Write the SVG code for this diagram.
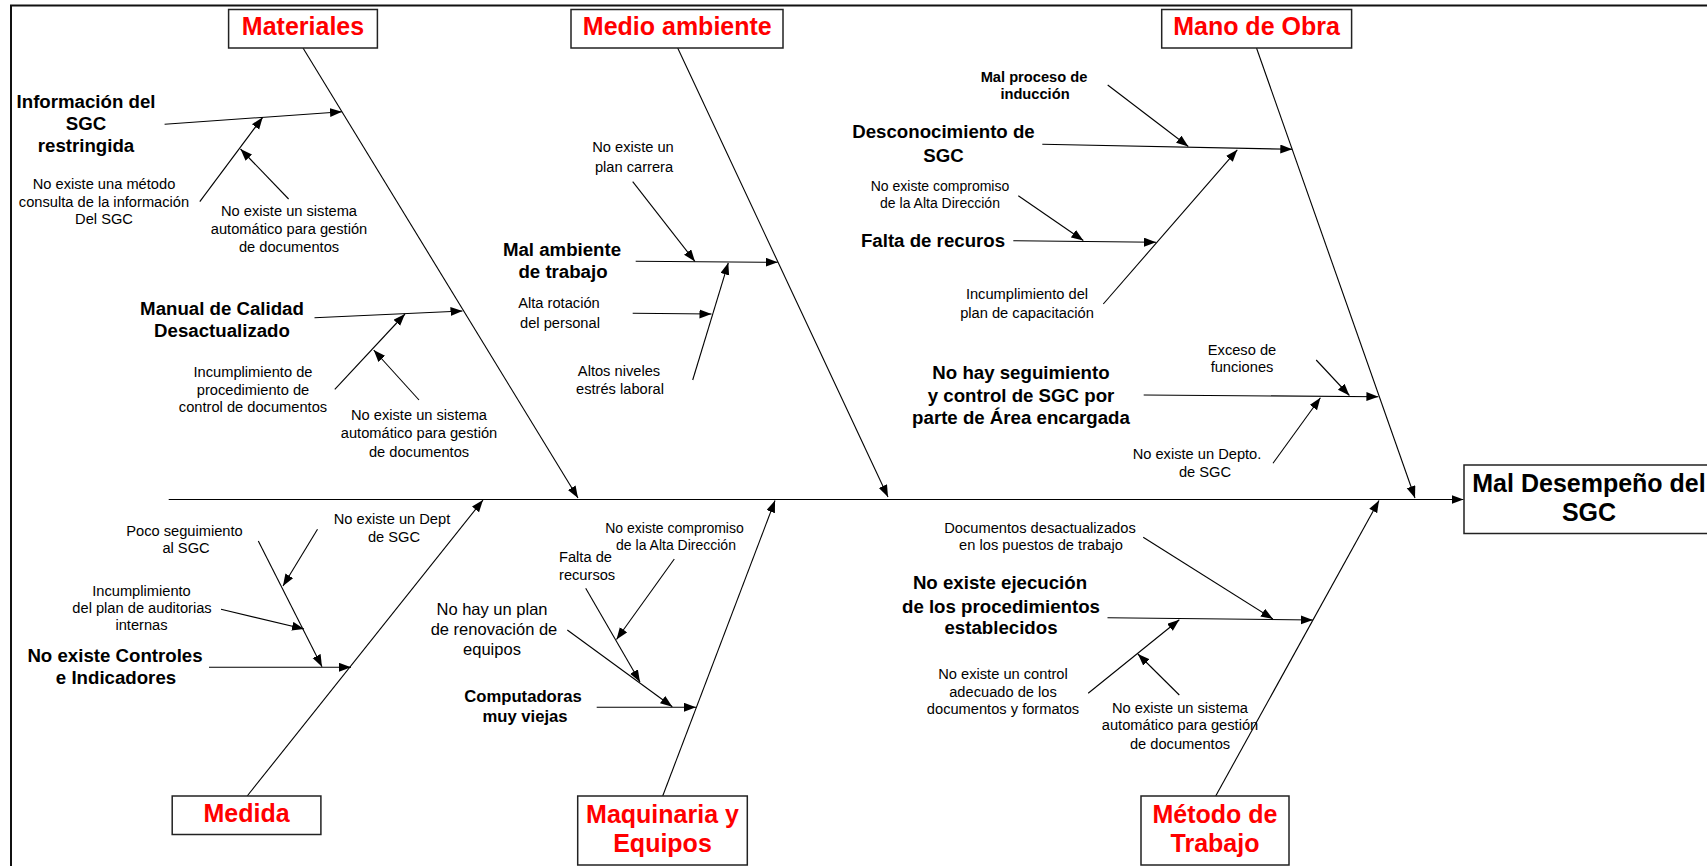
<svg xmlns="http://www.w3.org/2000/svg" width="1707" height="866" viewBox="0 0 1707 866">
<style>
text{font-family:"Liberation Sans",Arial,sans-serif;fill:#000;text-anchor:middle}
.n{font-size:14.67px}
.s{font-size:14px}
.m{font-size:16.5px}
.b{font-size:18.67px;font-weight:bold}
.bs{font-size:14.67px;font-weight:bold}
.bm{font-size:16.67px;font-weight:bold}
.t{font-size:25px;font-weight:bold;fill:#f00}
.e{font-size:25px;font-weight:bold}
.box{fill:#fff;stroke:#222;stroke-width:1.5}
.c line{stroke:#000;stroke-width:1.1;marker-end:url(#ah)}
.frame{fill:none;stroke:#111;stroke-width:2}
</style>
<defs>
<marker id="ah" markerUnits="userSpaceOnUse" markerWidth="13" markerHeight="10" refX="12" refY="4.5" orient="auto">
<path d="M0,0 L12,4.5 L0,9 z" fill="#000"/>
</marker>
</defs>
<rect width="1707" height="866" fill="#fff"/>
<path class="frame" d="M11,866 L11,5.5 L1707,5.5"/>

<g id="connectors" class="c">
<line x1="168.7" y1="499.5" x2="1463.5" y2="499.5"/>
<line x1="303" y1="48" x2="578" y2="498"/>
<line x1="677.7" y1="48" x2="888" y2="497"/>
<line x1="1256.5" y1="48" x2="1415" y2="498"/>
<line x1="247.2" y1="796" x2="483" y2="500"/>
<line x1="662.7" y1="796" x2="775" y2="500.5"/>
<line x1="1215.7" y1="796" x2="1379" y2="500.5"/>

<line x1="164.6" y1="124.3" x2="342" y2="111.7"/>
<line x1="199.8" y1="201.7" x2="262.7" y2="117.3"/>
<line x1="288.6" y1="199" x2="240.5" y2="149"/>
<line x1="314.5" y1="317.7" x2="462.5" y2="311"/>
<line x1="334.8" y1="389.3" x2="405" y2="314"/>
<line x1="419" y1="400" x2="373.7" y2="350"/>

<line x1="635.7" y1="261.3" x2="777.7" y2="262.3"/>
<line x1="632.7" y1="181.7" x2="695" y2="261.5"/>
<line x1="632.7" y1="313.3" x2="711.5" y2="314"/>
<line x1="692.7" y1="380" x2="728.3" y2="262.8"/>

<line x1="1107.7" y1="85" x2="1188.3" y2="146.5"/>
<line x1="1042.3" y1="144.3" x2="1292.3" y2="149.3"/>
<line x1="1018.3" y1="195.7" x2="1083.3" y2="240.5"/>
<line x1="1013.3" y1="240.7" x2="1156" y2="242.3"/>
<line x1="1103.3" y1="304" x2="1237.3" y2="149.8"/>
<line x1="1143.7" y1="395" x2="1378.4" y2="396.7"/>
<line x1="1316.2" y1="360" x2="1349.4" y2="395.5"/>
<line x1="1273" y1="463.3" x2="1320.4" y2="397.8"/>

<line x1="209" y1="667.3" x2="351" y2="667.3"/>
<line x1="258.3" y1="541" x2="322" y2="666.7"/>
<line x1="317.5" y1="529.3" x2="283" y2="586"/>
<line x1="221" y1="609.3" x2="304" y2="629"/>

<line x1="596.7" y1="707.3" x2="696" y2="707.3"/>
<line x1="567.3" y1="630" x2="672.3" y2="706.7"/>
<line x1="585.7" y1="588.3" x2="640" y2="682"/>
<line x1="674.3" y1="559" x2="616.5" y2="639.5"/>

<line x1="1107.5" y1="617.7" x2="1312.9" y2="620"/>
<line x1="1143.2" y1="537.3" x2="1272.9" y2="619"/>
<line x1="1088.2" y1="693.3" x2="1179.3" y2="619.8"/>
<line x1="1179.3" y1="695" x2="1137.9" y2="654"/>
</g>

<g id="materiales">
<rect class="box" x="228.6" y="9.5" width="148.8" height="38.5"/>
<text class="t" x="303" y="35">Materiales</text>
</g>
<g id="medio-ambiente">
<rect class="box" x="571" y="9.5" width="212" height="38.5"/>
<text class="t" x="677.3" y="35">Medio ambiente</text>
</g>
<g id="mano-de-obra">
<rect class="box" x="1161.7" y="9.5" width="189.9" height="38.5"/>
<text class="t" x="1256.5" y="35">Mano de Obra</text>
</g>
<g id="medida">
<rect class="box" x="172.2" y="796" width="148.7" height="38.5"/>
<text class="t" x="246.5" y="822">Medida</text>
</g>
<g id="maquinaria">
<rect class="box" x="577.7" y="796" width="169.6" height="69"/>
<text class="t" x="662.5" y="823">Maquinaria y</text>
<text class="t" x="662.5" y="852">Equipos</text>
</g>
<g id="metodo">
<rect class="box" x="1141" y="796" width="148" height="69"/>
<text class="t" x="1215" y="823">Método de</text>
<text class="t" x="1215" y="852">Trabajo</text>
</g>
<g id="efecto">
<rect class="box" x="1464" y="465" width="246" height="68.5"/>
<text class="e" x="1589" y="492">Mal Desempeño del</text>
<text class="e" x="1589" y="521">SGC</text>
</g>

<g id="info-sgc">
<text class="b" x="86" y="108">Información del</text>
<text class="b" x="86" y="130">SGC</text>
<text class="b" x="86" y="152">restringida</text>
</g>
<g id="metodo-consulta">
<text class="n" x="104" y="189">No existe una método</text>
<text class="n" x="104" y="206.5">consulta de la información</text>
<text class="n" x="104" y="224">Del SGC</text>
</g>
<g id="sistema-1">
<text class="n" x="289" y="216">No existe un sistema</text>
<text class="n" x="289" y="233.5">automático para gestión</text>
<text class="n" x="289" y="252">de documentos</text>
</g>
<g id="manual-calidad">
<text class="b" x="222" y="315">Manual de Calidad</text>
<text class="b" x="222" y="337">Desactualizado</text>
</g>
<g id="incumplimiento-proc">
<text class="n" x="253" y="377">Incumplimiento de</text>
<text class="n" x="253" y="394.5">procedimiento de</text>
<text class="n" x="253" y="412">control de documentos</text>
</g>
<g id="sistema-2">
<text class="n" x="419" y="420">No existe un sistema</text>
<text class="n" x="419" y="438.3">automático para gestión</text>
<text class="n" x="419" y="456.7">de documentos</text>
</g>

<g id="plan-carrera">
<text class="n" x="633" y="151.7">No existe un</text>
<text class="n" x="634" y="171.7">plan carrera</text>
</g>
<g id="mal-ambiente">
<text class="b" x="562" y="256">Mal ambiente</text>
<text class="b" x="563" y="277.7">de trabajo</text>
</g>
<g id="alta-rotacion">
<text class="n" x="559" y="308.3">Alta rotación</text>
<text class="n" x="560" y="328.3">del personal</text>
</g>
<g id="altos-niveles">
<text class="n" x="619" y="376">Altos niveles</text>
<text class="n" x="620" y="394.3">estrés laboral</text>
</g>

<g id="mal-proceso">
<text class="bs" x="1034" y="81.7">Mal proceso de</text>
<text class="bs" x="1035" y="99">inducción</text>
</g>
<g id="desconocimiento">
<text class="b" x="943.5" y="138.3">Desconocimiento de</text>
<text class="b" x="943.5" y="161.7">SGC</text>
</g>
<g id="compromiso-1">
<text class="s" x="940" y="190.7">No existe compromiso</text>
<text class="s" x="940" y="208.3">de la Alta Dirección</text>
</g>
<g id="falta-recuros">
<text class="b" x="933" y="246.7">Falta de recuros</text>
</g>
<g id="incumplimiento-cap">
<text class="n" x="1027" y="299.3">Incumplimiento del</text>
<text class="n" x="1027" y="317.7">plan de capacitación</text>
</g>
<g id="seguimiento-area">
<text class="b" x="1021" y="379">No hay seguimiento</text>
<text class="b" x="1021" y="401.5">y control de SGC por</text>
<text class="b" x="1021" y="424">parte de Área encargada</text>
</g>
<g id="exceso-funciones">
<text class="n" x="1242" y="355">Exceso de</text>
<text class="n" x="1242" y="371.7">funciones</text>
</g>
<g id="depto-sgc">
<text class="n" x="1197" y="459.3">No existe un Depto.</text>
<text class="n" x="1205" y="476.7">de SGC</text>
</g>

<g id="poco-seguimiento">
<text class="n" x="184.5" y="536">Poco seguimiento</text>
<text class="n" x="186" y="553.3">al SGC</text>
</g>
<g id="dept-sgc">
<text class="n" x="392" y="524.3">No existe un Dept</text>
<text class="n" x="394" y="541.7">de SGC</text>
</g>
<g id="auditorias">
<text class="n" x="141.5" y="595.7">Incumplimiento</text>
<text class="n" x="142" y="613.3">del plan de auditorias</text>
<text class="n" x="141.5" y="630">internas</text>
</g>
<g id="controles">
<text class="b" x="115" y="661.7">No existe Controles</text>
<text class="b" x="116" y="684.3">e Indicadores</text>
</g>

<g id="compromiso-2">
<text class="s" x="674.5" y="533.3">No existe compromiso</text>
<text class="s" x="676" y="550">de la Alta Dirección</text>
</g>
<g id="falta-recursos">
<text class="n" x="559" y="561.7" style="text-anchor:start">Falta de</text>
<text class="n" x="559" y="580" style="text-anchor:start">recursos</text>
</g>
<g id="plan-renovacion">
<text class="m" x="492" y="615">No hay un plan</text>
<text class="m" x="494" y="635">de renovación de</text>
<text class="m" x="492" y="655">equipos</text>
</g>
<g id="computadoras">
<text class="bm" x="523" y="701.7">Computadoras</text>
<text class="bm" x="525" y="721.7">muy viejas</text>
</g>

<g id="documentos-desact">
<text class="n" x="1040" y="532.7">Documentos desactualizados</text>
<text class="n" x="1041" y="550">en los puestos de trabajo</text>
</g>
<g id="ejecucion">
<text class="b" x="1000" y="589.3">No existe ejecución</text>
<text class="b" x="1001" y="612.7">de los procedimientos</text>
<text class="b" x="1001" y="634.3">establecidos</text>
</g>
<g id="control-adecuado">
<text class="n" x="1003" y="679.3">No existe un control</text>
<text class="n" x="1003" y="697.3">adecuado de los</text>
<text class="n" x="1003" y="714.3">documentos y formatos</text>
</g>
<g id="sistema-3">
<text class="n" x="1180" y="712.7">No existe un sistema</text>
<text class="n" x="1180" y="730">automático para gestión</text>
<text class="n" x="1180" y="749.3">de documentos</text>
</g>
</svg>
